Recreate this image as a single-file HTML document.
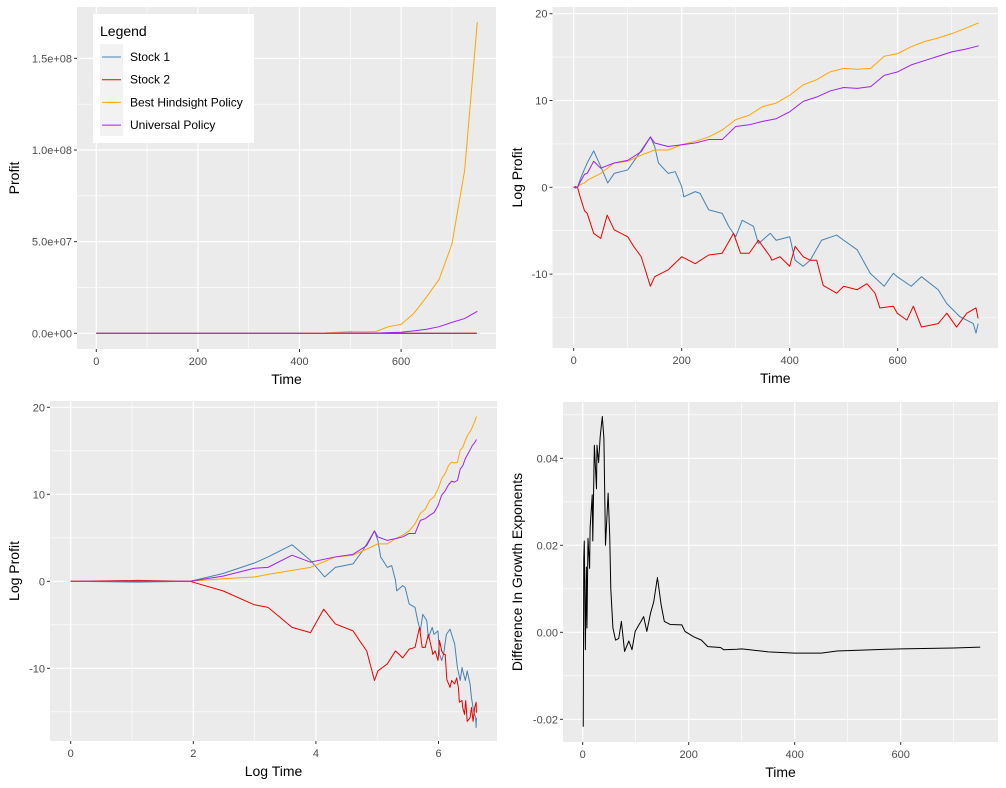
<!DOCTYPE html>
<html><head><meta charset="utf-8"><style>
html,body{margin:0;padding:0;background:#fff;}
svg{display:block;font-family:"Liberation Sans",Arial,sans-serif;}
</style></head><body>
<svg id="chart" width="1006" height="788" viewBox="0 0 1006 788" xmlns="http://www.w3.org/2000/svg"></svg>
<script>
// ---- data (log profit series) ----
const s1T=[0,1,3,7,12,20,25,37,50,63,75,100,117,142,150,157,175,188,200,204,225,234,250,275,287,300,312,333,342,364,375,400,410,425,438,459,487,500,525,549,575,592,599,625,644,675,691,715,740,745,749];
const s1V=[0,0,-0.1,0,0.9,2.1,2.8,4.2,2.4,0.5,1.6,2.0,3.5,5.8,4.7,2.8,1.6,1.8,0.1,-1.1,-0.5,-0.7,-2.6,-3.0,-4.5,-5.7,-3.8,-4.5,-6.5,-5.3,-6.1,-5.7,-8.4,-9.1,-8.4,-6.1,-5.5,-6.1,-7.2,-9.9,-11.4,-9.9,-10.3,-11.4,-10.3,-11.8,-13.4,-14.9,-15.7,-16.8,-15.7];
const s2T=[0,1,3,7,12,20,25,37,50,62,75,100,111,125,142,150,175,200,225,250,275,296,309,325,342,364,367,382,400,410,425,438,450,462,487,500,525,543,558,567,592,599,617,629,644,675,691,709,728,745,749];
const s2V=[0,0,0.1,0,-1.1,-2.7,-3.0,-5.3,-5.9,-3.2,-4.9,-5.7,-6.8,-8.0,-11.4,-10.3,-9.5,-8.0,-8.8,-7.8,-7.6,-5.3,-7.6,-7.6,-6.1,-8.0,-8.4,-8.0,-9.1,-6.8,-8.0,-8.4,-8.4,-11.3,-12.2,-11.4,-11.8,-11.1,-12.2,-13.9,-13.7,-14.5,-15.3,-13.7,-16.1,-15.7,-14.5,-16.1,-14.5,-13.9,-15.1];
const bestT=[0,1,3,7,12,20,25,50,75,100,125,150,175,200,225,250,275,300,325,350,375,400,425,450,475,500,525,550,575,600,625,650,675,700,725,750];
const bestV=[0,0,0,0,0.3,0.5,0.8,1.6,2.8,3.0,3.7,4.3,4.3,4.9,5.3,5.8,6.6,7.8,8.3,9.3,9.7,10.6,11.8,12.4,13.3,13.7,13.6,13.7,15.1,15.4,16.2,16.8,17.2,17.7,18.3,18.95];
const uniT=[0,1,3,7,12,20,25,37,50,75,100,125,142,150,175,200,225,250,275,300,325,350,375,400,425,450,475,500,525,550,575,600,625,650,675,700,725,750];
const uniV=[0,0,0,0,0.6,1.5,1.6,3.0,2.2,2.8,3.1,4.1,5.8,5.1,4.7,4.9,5.1,5.5,5.5,7.0,7.2,7.6,7.9,8.7,9.9,10.4,11.1,11.5,11.4,11.6,12.9,13.3,14.1,14.6,15.1,15.6,15.9,16.3];
// difference in growth exponents
const dT=[1,2,3,5,7,8,10,13,14,18,19,22,26,27,30,33,37,40,43,48,51,53,57,62,68,73,79,87,93,99,106,110,115,121,128,134,141,148,154,165,187,193,209,224,236,260,266,291,300,350,400,450,480,500,600,700,750];
const dV=[-0.0217,0.017,0.021,-0.004,0.015,0.001,0.0216,0.0147,0.024,0.0316,0.021,0.043,0.033,0.043,0.039,0.045,0.0496,0.0446,0.020,0.032,0.022,0.010,0.001,-0.0018,-0.0014,0.0025,-0.0044,-0.002,-0.004,0.0002,0.0017,0.0025,0.0036,0.0002,0.0044,0.007,0.0126,0.0063,0.0025,0.0018,0.0017,0.0002,-0.001,-0.0018,-0.0033,-0.0035,-0.004,-0.0039,-0.0038,-0.0045,-0.0048,-0.0048,-0.0043,-0.0042,-0.0038,-0.0036,-0.0034];
// ticks
const p1XTicks=[0,200,400,600];
const p1YTicks=[0,5e7,1e8,1.5e8];
const p1YLabels=["0.0e+00","5.0e+07","1.0e+08","1.5e+08"];
const p2YTicks=[-10,0,10,20];
const p3XTicks=[0,2,4,6];
const p4YTicks=[-0.02,0,0.02,0.04];
const p4YLabels=["-0.02","0.00","0.02","0.04"];

const NS="http://www.w3.org/2000/svg";
const svg=document.getElementById('chart');
function mk(tag,attrs,parent){const e=document.createElementNS(NS,tag);for(const k in attrs)e.setAttribute(k,attrs[k]);(parent||svg).appendChild(e);return e;}

const COL={s1:"#4682B4",s2:"#EE0000",best:"#FFA500",uni:"#A020F0"};

function panel(name,box,xs,ys,xMaj,xMin,yMaj,yMin,xLab,yLab,xTitle,yTitle,yTitleX){
  const g=mk('g',{});
  
  
  const bg=mk('rect',{x:box[0],y:box[1],width:box[2]-box[0],height:box[3]-box[1],fill:'#EBEBEB'},g);
  
  
  xMin.forEach(v=>{const x=xs(v);if(x>box[0]&&x<box[2])mk('line',{x1:x,x2:x,y1:box[1],y2:box[3],stroke:'#fff','stroke-width':0.6},g);});
  yMin.forEach(v=>{const y=ys(v);if(y>box[1]&&y<box[3])mk('line',{y1:y,y2:y,x1:box[0],x2:box[2],stroke:'#fff','stroke-width':0.6},g);});
  xMaj.forEach((v,i)=>{const x=xs(v);
    mk('line',{x1:x,x2:x,y1:box[1],y2:box[3],stroke:'#fff','stroke-width':1.2},g);
    mk('line',{x1:x,x2:x,y1:box[3],y2:box[3]+3,stroke:'#333','stroke-width':1},g);
    const t=mk('text',{x:x,y:box[3]+16,'font-size':11,fill:'#4D4D4D','text-anchor':'middle'},g);t.textContent=xLab[i];
    
    });
  yMaj.forEach((v,i)=>{const y=ys(v);
    mk('line',{y1:y,y2:y,x1:box[0],x2:box[2],stroke:'#fff','stroke-width':1.2},g);
    mk('line',{y1:y,y2:y,x1:box[0]-3,x2:box[0],stroke:'#333','stroke-width':1},g);
    const t=mk('text',{x:box[0]-5,y:y+4,'font-size':11,fill:'#4D4D4D','text-anchor':'end'},g);t.textContent=yLab[i];
    
    });
  const xt=mk('text',{x:(box[0]+box[2])/2,y:box[3]+35,'font-size':14,fill:'#000','text-anchor':'middle'},g);xt.textContent=xTitle;
  
  
  const cy=(box[1]+box[3])/2;
  const yt=mk('text',{x:yTitleX,y:cy,'font-size':14,fill:'#000','text-anchor':'middle',transform:`rotate(-90 ${yTitleX} ${cy})`},g);yt.textContent=yTitle;
  
  
  const cid='clip-'+name;
  const cp=mk('clipPath',{id:cid},g);mk('rect',{x:box[0],y:box[1],width:box[2]-box[0],height:box[3]-box[1]},cp);
  return {g,cid};
}
function series(p,name,T,V,xs,ys,f,col){
  let d='';
  T.forEach((t,i)=>{const v=f(t,V[i]);if(v===null)return;d+=(d?'L':'M')+xs(t).toFixed(2)+','+ys(v).toFixed(2);});
  const path=mk('path',{d:d,fill:'none',stroke:col,'stroke-width':1,'stroke-linejoin':'round','clip-path':`url(#${p.cid})`},p.g);
  
  
}
const id=(t,v)=>v;

// Panel 1 : Profit vs Time
{const box=[77,7,496,349];const xs=t=>96.3+t*0.508;const ys=v=>333.3-v*1.833e-6;
 const p=panel('profit-panel',box,xs,ys,p1XTicks,[100,300,500,700],p1YTicks,[2.5e7,7.5e7,1.25e8],p1XTicks.map(String),p1YLabels,'Time','Profit',19);
 const ex=(t,v)=>Math.exp(v);
 series(p,'stock-1-line',s1T,s1V,xs,ys,ex,COL.s1);
 series(p,'stock-2-line',s2T,s2V,xs,ys,ex,COL.s2);
 series(p,'best-hindsight-line',bestT,bestV,xs,ys,ex,COL.best);
 series(p,'universal-policy-line',uniT,uniV,xs,ys,ex,COL.uni);
 const lg=mk('g',{});
 
 
 mk('rect',{x:93,y:14,width:161,height:129,fill:'#fff'},lg);
 mk('rect',{x:100,y:44,width:23,height:92,fill:'#F2F2F2'},lg);
 const lt=mk('text',{x:100,y:36,'font-size':14,fill:'#000'},lg);lt.textContent='Legend';
 
 
 const items=[['Stock 1',COL.s1],['Stock 2',COL.s2],['Best Hindsight Policy',COL.best],['Universal Policy',COL.uni]];
 items.forEach((it,i)=>{const y=57+i*22.7;
   const e=mk('g',{},lg);
   
   
   mk('line',{x1:102,x2:121,y1:y,y2:y,stroke:it[1],'stroke-width':1},e);
   const t=mk('text',{x:130,y:y+4,'font-size':12,fill:'#000'},e);t.textContent=it[0];});
}
// Panel 2 : Log Profit vs Time
{const box=[552.5,7,998,348];const xs=t=>573.7+t*0.54;const ys=v=>187.3-v*8.68;
 const p=panel('log-profit-panel',box,xs,ys,p1XTicks,[100,300,500,700],p2YTicks,[-15,-5,5,15],p1XTicks.map(String),p2YTicks.map(String),'Time','Log Profit',522);
 series(p,'stock-1-line',s1T,s1V,xs,ys,id,COL.s1);
 series(p,'stock-2-line',s2T,s2V,xs,ys,id,COL.s2);
 series(p,'best-hindsight-line',bestT,bestV,xs,ys,id,COL.best);
 series(p,'universal-policy-line',uniT,uniV,xs,ys,id,COL.uni);
}
// Panel 3 : Log Profit vs Log Time
{const box=[50,401,497,741];const xs=t=>70.7+t*61.3;const ys=v=>581.3-v*8.7;
 const p=panel('log-log-panel',box,xs,ys,p3XTicks,[1,3,5],p2YTicks,[-15,-5,5,15],p3XTicks.map(String),p2YTicks.map(String),'Log Time','Log Profit',19);
 const lgT=T=>T.filter(t=>t>=1).map(t=>Math.log(t));
 const lgV=(T,V)=>V.filter((v,i)=>T[i]>=1);
 series(p,'stock-1-line',lgT(s1T),lgV(s1T,s1V),xs,ys,id,COL.s1);
 series(p,'stock-2-line',lgT(s2T),lgV(s2T,s2V),xs,ys,id,COL.s2);
 series(p,'best-hindsight-line',lgT(bestT),lgV(bestT,bestV),xs,ys,id,COL.best);
 series(p,'universal-policy-line',lgT(uniT),lgV(uniT,uniV),xs,ys,id,COL.uni);
}
// Panel 4 : Difference in growth exponents
{const box=[563,402,998,742];const xs=t=>582.7+t*0.53;const ys=v=>632.3-v*4350;
 const p=panel('growth-difference-panel',box,xs,ys,p1XTicks,[100,300,500,700],p4YTicks,[-0.01,0.01,0.03,0.05],p1XTicks.map(String),p4YLabels,'Time','Difference In Growth Exponents',522);
 series(p,'growth-difference-line',dT,dV,xs,ys,id,'#000');
}
</script>
</body></html>
